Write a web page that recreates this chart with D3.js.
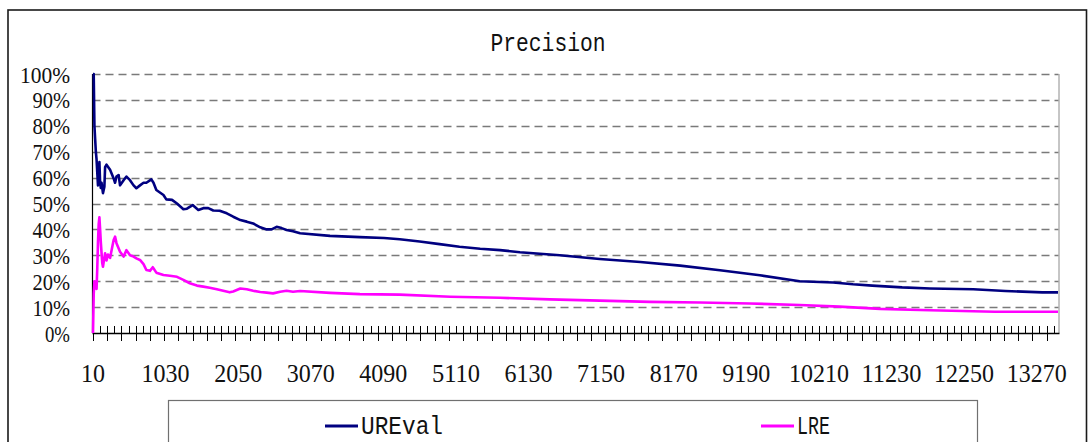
<!DOCTYPE html>
<html>
<head>
<meta charset="utf-8">
<script src="https://cdn.jsdelivr.net/npm/d3@7"></script>
<style>
  html, body { margin: 0; padding: 0; background: #fff; }
  svg { display: block; }
  .serif { font-family: 'Liberation Serif', 'Times New Roman', serif; }
  .mono { font-family: 'Liberation Mono', 'Courier New', monospace; }
</style>
</head>
<body>
<svg id="chart" width="1089" height="442"></svg>
<script>
// Category labels shown on the x axis (every 102nd category)
const xTickLabels = [10, 1030, 2050, 3070, 4090, 5110, 6130, 7150, 8170, 9190, 10210, 11230, 12250, 13270];
// Percent ticks on the y axis
const yTicks = [0, 10, 20, 30, 40, 50, 60, 70, 80, 90, 100];
// First and last category of the run
const firstCategory = 10;
const lastCategory = 13570;

// UREval precision (%) by number of items
const urevalPoints = [
  [10, 100], [20, 100], [30, 80], [40, 75], [50, 70], [60, 67], [70, 62], [80, 57], [90, 60],
  [100, 66], [110, 58], [120, 56], [130, 58], [150, 54], [170, 56.5], [180, 64], [200, 65],
  [250, 63], [300, 59.7], [320, 58], [340, 60.4], [370, 61], [390, 57], [440, 59], [480, 60.4],
  [530, 59], [580, 57], [620, 55.9], [670, 57], [720, 58], [760, 58], [830, 59.3], [860, 58],
  [900, 55.2], [1000, 53.3], [1040, 51.6], [1120, 51.4], [1190, 50], [1280, 47.8], [1330, 48],
  [1410, 49.4], [1490, 47.5], [1560, 48.2], [1630, 48.2], [1700, 47.3], [1790, 47.2],
  [1890, 46.2], [1980, 44.9], [2080, 43.6], [2170, 43], [2260, 42.3], [2360, 40.8],
  [2450, 40], [2520, 40], [2590, 41], [2660, 40.5], [2730, 39.8], [2820, 39.3], [2920, 38.5],
  [3340, 37.5], [3760, 37], [4100, 36.7], [4320, 36.2], [4600, 35.3], [4880, 34.3],
  [5160, 33.3], [5450, 32.5], [5730, 32], [6010, 31.2], [6570, 30], [7130, 28.6],
  [7700, 27.4], [8260, 26], [8820, 24.2], [9380, 22.3], [9940, 20], [10410, 19.5],
  [10690, 18.8], [10960, 18.3], [11380, 17.6], [11770, 17.2], [12380, 16.9], [12830, 16.2],
  [13350, 15.7], [13570, 15.7]
];

// LRE precision (%) by number of items
const lrePoints = [
  [10, 0], [20, 15], [30, 20], [40, 18], [50, 19], [60, 17], [70, 25], [80, 35], [90, 42],
  [100, 44.7], [110, 40], [120, 35], [130, 31], [140, 27], [150, 25.6], [180, 30.8],
  [200, 28], [220, 30.3], [250, 29], [300, 35.9], [320, 37.2], [340, 34.7], [390, 31.4],
  [440, 29.5], [480, 32], [530, 30], [580, 29.5], [620, 28.8], [670, 28.2], [720, 26.6],
  [760, 24.3], [810, 24], [850, 25.4], [900, 23.3], [1000, 22.4], [1090, 22.1], [1190, 21.7],
  [1280, 20.5], [1370, 19.2], [1470, 18.3], [1560, 17.9], [1650, 17.5], [1750, 16.9],
  [1840, 16.3], [1930, 15.7], [1980, 16], [2080, 17.2], [2170, 16.9], [2260, 16.3],
  [2360, 15.8], [2450, 15.6], [2540, 15.3], [2640, 15.9], [2730, 16.3], [2820, 15.9],
  [2920, 16.2], [3340, 15.5], [3760, 15], [4320, 14.8], [5030, 14], [5730, 13.6],
  [6430, 13], [7130, 12.5], [7840, 12], [8540, 11.8], [9240, 11.4], [9940, 10.8],
  [10500, 10.2], [11070, 9.3], [11770, 8.8], [12680, 8.2], [13570, 8.2]
];

const seriesNames = ["UREval", "LRE"];
const seriesColors = ["#000080", "#FF00FF"];

const svg = d3.select("#chart");

const plot = { left: 92.5, right: 1058.5, top: 74, bottom: 333 };

const x = d3.scaleLinear().domain([firstCategory, lastCategory]).range([93, 1058]);
const y = d3.scaleLinear().domain([0, 100]).range([plot.bottom, plot.top]);

// chart frame
svg.append("rect")
  .attr("x", 8).attr("y", 10).attr("width", 1078.5).attr("height", 460)
  .attr("fill", "#fff").attr("stroke", "#1a1a1a").attr("stroke-width", 1.6);

// title
svg.append("text")
  .attr("class", "mono")
  .attr("x", 548).attr("y", 51)
  .attr("text-anchor", "middle")
  .attr("font-size", 25)
  .attr("textLength", 115).attr("lengthAdjust", "spacingAndGlyphs")
  .attr("fill", "#111")
  .text("Precision");

// dashed horizontal gridlines
svg.append("g").selectAll("line")
  .data(yTicks.filter(d => d > 0))
  .join("line")
  .attr("x1", plot.left).attr("x2", plot.right)
  .attr("y1", d => Math.round(y(d)) + 0.5).attr("y2", d => Math.round(y(d)) + 0.5)
  .attr("stroke", "#7a7a7a").attr("stroke-width", 1.3)
  .attr("stroke-dasharray", "8,5");

// right edge of the plot area
svg.append("line")
  .attr("x1", plot.right + 0.5).attr("x2", plot.right + 0.5)
  .attr("y1", plot.top).attr("y2", plot.bottom)
  .attr("stroke", "#8c8c8c").attr("stroke-width", 1);

// y axis labels
svg.append("g").selectAll("text")
  .data(yTicks)
  .join("text")
  .attr("class", "serif")
  .attr("x", 70).attr("y", d => y(d) + 8.5)
  .attr("text-anchor", "end")
  .attr("font-size", 23)
  .attr("textLength", d => (d + "%").length * 12.5).attr("lengthAdjust", "spacingAndGlyphs")
  .attr("fill", "#111")
  .text(d => d + "%");

// y axis line
svg.append("line")
  .attr("x1", plot.left).attr("x2", plot.left)
  .attr("y1", plot.top).attr("y2", plot.bottom)
  .attr("stroke", "#000").attr("stroke-width", 1.2);

// x axis: tick every 10 categories, crossing ticks on every second one
const tickValues = d3.range(firstCategory, lastCategory + 1, 100);
const xAxis = svg.append("g");
xAxis.selectAll("line.tick")
  .data(tickValues)
  .join("line")
  .attr("class", "tick")
  .attr("x1", d => Math.round(x(d)) + 0.5).attr("x2", d => Math.round(x(d)) + 0.5)
  .attr("y1", plot.bottom - 7)
  .attr("y2", (d, i) => i % 2 === 0 ? plot.bottom + 8 : plot.bottom)
  .attr("stroke", "#000").attr("stroke-width", 1);
xAxis.append("line")
  .attr("x1", plot.left).attr("x2", plot.right + 1)
  .attr("y1", plot.bottom + 0.5).attr("y2", plot.bottom + 0.5)
  .attr("stroke", "#000").attr("stroke-width", 1.3);
xAxis.selectAll("text")
  .data(xTickLabels)
  .join("text")
  .attr("class", "serif")
  .attr("x", d => x(d)).attr("y", 382)
  .attr("text-anchor", "middle")
  .attr("font-size", 25)
  .attr("textLength", d => String(d).length * 12).attr("lengthAdjust", "spacingAndGlyphs")
  .attr("fill", "#111")
  .text(d => d);

// series lines
const line = d3.line().x(d => x(d[0])).y(d => y(d[1]));
[lrePoints, urevalPoints].forEach((pts, i) => {
  svg.append("path")
    .datum(pts)
    .attr("d", line)
    .attr("fill", "none")
    .attr("stroke", seriesColors[1 - i])
    .attr("stroke-width", 2.6)
    .attr("stroke-linejoin", "round");
});

// legend
svg.append("rect")
  .attr("x", 168.5).attr("y", 400.5).attr("width", 809).attr("height", 60)
  .attr("fill", "#fff").attr("stroke", "#707070").attr("stroke-width", 1.2);
const legendX = [325, 761];
const legendTextLen = [82, 33];
seriesNames.forEach((name, i) => {
  svg.append("line")
    .attr("x1", legendX[i]).attr("x2", legendX[i] + 33)
    .attr("y1", 426).attr("y2", 426)
    .attr("stroke", seriesColors[i]).attr("stroke-width", 3);
  svg.append("text")
    .attr("class", "mono")
    .attr("x", legendX[i] + 36).attr("y", 434)
    .attr("font-size", 25)
    .attr("textLength", legendTextLen[i]).attr("lengthAdjust", "spacingAndGlyphs")
    .attr("fill", "#111")
    .text(name);
});
</script>
</body>
</html>
